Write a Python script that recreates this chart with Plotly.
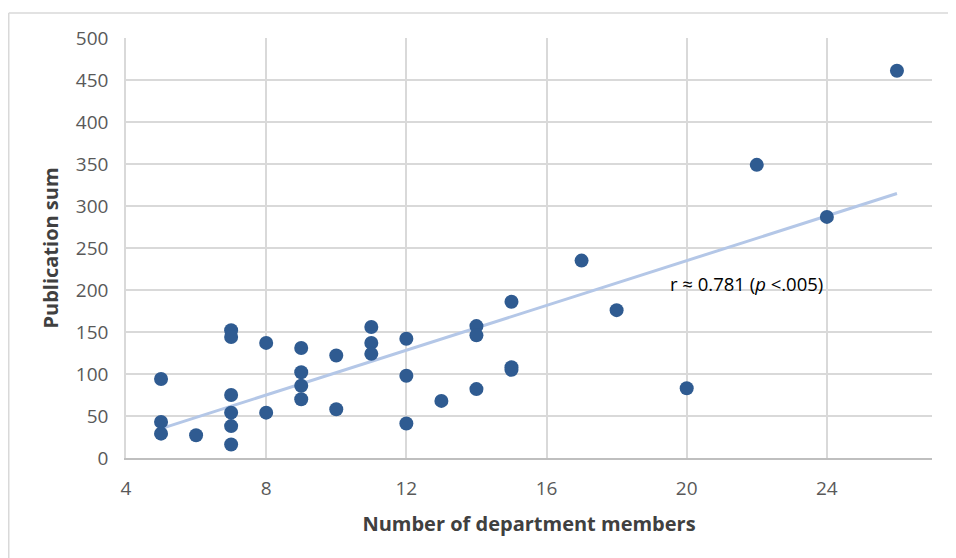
import numpy as np
import plotly.graph_objects as go

members = [5, 5, 5, 6, 7, 7, 7, 7, 7, 7, 8, 8, 9, 9, 9, 9, 10, 10, 11, 11, 11,
           12, 12, 12, 13, 14, 14, 14, 15, 15, 15, 17, 18, 20, 22, 24, 26]
publications = [94, 43, 29, 27, 152, 144, 75, 54, 38, 16, 137, 54, 131, 102, 86, 70,
                122, 58, 156, 137, 124, 142, 98, 41, 68, 157, 146, 82, 186, 108, 105,
                235, 176, 83, 349, 287, 461]
x_ticks = [4, 8, 12, 16, 20, 24]
y_ticks = [0, 50, 100, 150, 200, 250, 300, 350, 400, 450, 500]
annotation_text = "r \u2248 0.781 (<i>p</i> <.005)"

slope, intercept = np.polyfit(members, publications, 1)
trend_x = [min(members), max(members)]
trend_y = [slope * v + intercept for v in trend_x]

FONT = "Open Sans"
fig = go.Figure()
fig.add_trace(go.Scatter(x=trend_x, y=trend_y, mode="lines",
                         line=dict(color="#b4c7e7", width=3), hoverinfo="skip",
                         showlegend=False))
fig.add_trace(go.Scatter(x=members, y=publications, mode="markers",
                         marker=dict(color="#2f5b91", size=14), showlegend=False))

fig.add_annotation(x=21.7, y=208, text=annotation_text, showarrow=False,
                   font=dict(family=FONT, size=18.5, color="#000000"))

# page body has an 8px margin, so the figure starts at screen (8, 8)
W, H = 956, 558
L, R, T, B = 118, 32, 30, 108
pw, ph = W - L - R, H - T - B
bx = (0.75 - L) / pw
by = 1 + (T - 5) / ph
fig.add_shape(type="line", xref="paper", yref="paper", x0=bx, y0=by, x1=1.2, y1=by,
              line=dict(color="#d9d9d9", width=1.5))
fig.add_shape(type="line", xref="paper", yref="paper", x0=bx, y0=by, x1=bx, y1=-0.4,
              line=dict(color="#d9d9d9", width=1.5))

fig.update_layout(
    width=W, height=H,
    margin=dict(l=L, r=R, t=T, b=B),
    paper_bgcolor="white", plot_bgcolor="white",
    font=dict(family=FONT),
    xaxis=dict(range=[4, 27], tickvals=x_ticks, showgrid=True, gridcolor="#d9d9d9",
               gridwidth=1.5, zeroline=False, showline=True, linecolor="#bfbfbf",
               linewidth=1.5, tickfont=dict(size=19, color="#595959"),
               ticklabelstandoff=12,
               title=dict(text="<b>Number of department members</b>",
                          font=dict(size=20, color="#404040"), standoff=17)),
    yaxis=dict(range=[0, 500], tickvals=y_ticks, showgrid=True, gridcolor="#d9d9d9",
               gridwidth=1.5, zeroline=False, showline=True, linecolor="#d9d9d9",
               linewidth=1.5, tickfont=dict(size=19, color="#595959"),
               ticklabelstandoff=12,
               title=dict(text="<b>Publication sum</b>",
                          font=dict(size=20, color="#404040"), standoff=12)),
)

fig.write_html("out.html")
